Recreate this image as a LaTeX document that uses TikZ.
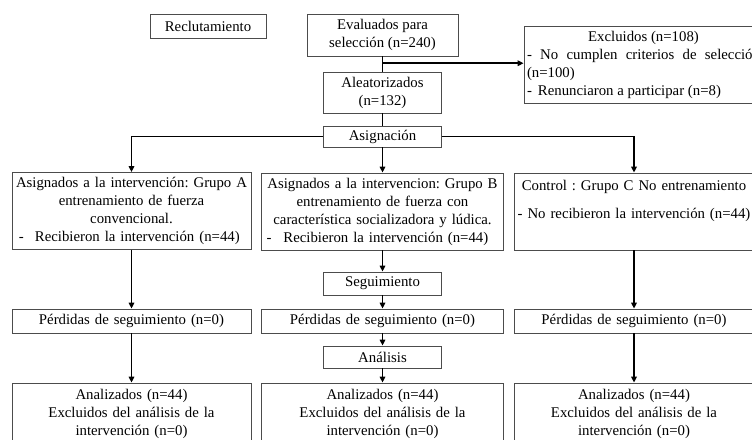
\documentclass[tikz,border=0pt]{standalone}
\usepackage{fontspec}
\setmainfont{Liberation Serif}
\usetikzlibrary{arrows.meta,calc}
\frenchspacing
\begin{document}
\begin{tikzpicture}[x=1pt,y=-1pt,
  box/.style={draw=black!70, line width=0.8pt, rectangle, inner ysep=0pt, inner xsep=4pt,
    font=\fontsize{14.8}{18}\selectfont, align=center},
  wide/.style={box, inner xsep=0pt, text width=#1, minimum width=#1},
  conn/.style={line width=1.8pt, black},
  arr/.style={conn, -{Triangle[length=6pt,width=5.5pt]}}]
\useasboundingbox (0,0) rectangle (752,439);
% top column
\node[box, minimum width=116pt, minimum height=24pt] (recl) at (208,26) {Reclutamiento};
\node[box, minimum width=151pt, minimum height=42pt] (eval) at (382.5,35) {Evaluados para\\selección (n=240)};
\node[box, minimum width=118pt, minimum height=41pt] (alea) at (382.5,92.5) {Aleatorizados\\(n=132)};
\node[box, minimum width=118pt, minimum height=21pt] (asig) at (382.5,136.5) {Asignación};
\node[box, minimum width=239pt, minimum height=77pt, inner xsep=3pt, text width=233pt, align=justify,
  execute at begin node={\parindent=0pt}] (excl) at (643.5,64.5)
  {\makebox[\linewidth][c]{Excluidos (n=108)}\par
   - No cumplen criterios de selección (n=100)\par
   -\hspace{6pt}Renunciaron a participar (n=8)};
% groups
\node[wide=239pt, minimum height=77pt] (gA) at (131.5,211)
  {Asignados a la intervención: Grupo A\\entrenamiento de fuerza\\convencional.\\
   \makebox[\linewidth][l]{\hspace{7pt}-\hspace{11pt}Recibieron la intervención (n=44)}};
\node[wide=242pt, minimum height=77pt] (gB) at (382.5,211.5)
  {Asignados a la intervencion: Grupo B\\entrenamiento de fuerza con\\característica socializadora y lúdica.\\
   \makebox[\linewidth][l]{\hspace{5pt}-\hspace{12pt}Recibieron la intervención (n=44)}};
\node[wide=240pt, minimum height=77pt] (gC) at (634,211.5)
  {Control : Grupo C No entrenamiento\\[10pt]- No recibieron la intervención (n=44)\\[6pt]\mbox{}};
% follow-up
\node[box, minimum width=118pt, minimum height=23pt] (seg) at (382.5,283.5) {Seguimiento};
\node[wide=239pt, minimum height=24pt] (pA) at (131.5,321) {Pérdidas de seguimiento (n=0)};
\node[wide=242pt, minimum height=24pt] (pB) at (382.5,321) {Pérdidas de seguimiento (n=0)};
\node[wide=240pt, minimum height=24pt] (pC) at (634,321) {Pérdidas de seguimiento (n=0)};
\node[box, minimum width=118pt, minimum height=22pt] (ana) at (382.5,357) {Análisis};
% analysed
\node[wide=239pt, minimum height=62pt] (aA) at (131.5,414) {Analizados (n=44)\\Excluidos del análisis de la\\intervención (n=0)};
\node[wide=242pt, minimum height=62pt] (aB) at (382.5,414) {Analizados (n=44)\\Excluidos del análisis de la\\intervención (n=0)};
\node[wide=240pt, minimum height=62pt] (aC) at (634,414) {Analizados (n=44)\\Excluidos del análisis de la\\intervención (n=0)};
% connectors
\draw[conn] (eval) -- (alea);
\coordinate (br) at ($(eval.south)!0.45!(alea.north)$);
\draw[arr] (br) -- (br -| excl.west);
\draw[conn] (alea) -- (asig);
\draw[arr] (asig.west) -| (gA.north);
\draw[arr] (asig.east) -| (gC.north);
\draw[arr] (asig) -- (gB);
\draw[arr] (gA) -- (pA);
\draw[arr] (pA) -- (aA);
\draw[arr] (gC) -- (pC);
\draw[arr] (pC) -- (aC);
\draw[arr] (gB) -- (seg);
\draw[arr] (seg) -- (pB);
\draw[arr] (pB) -- (ana);
\draw[arr] (ana) -- (aB);
\end{tikzpicture}
\end{document}
